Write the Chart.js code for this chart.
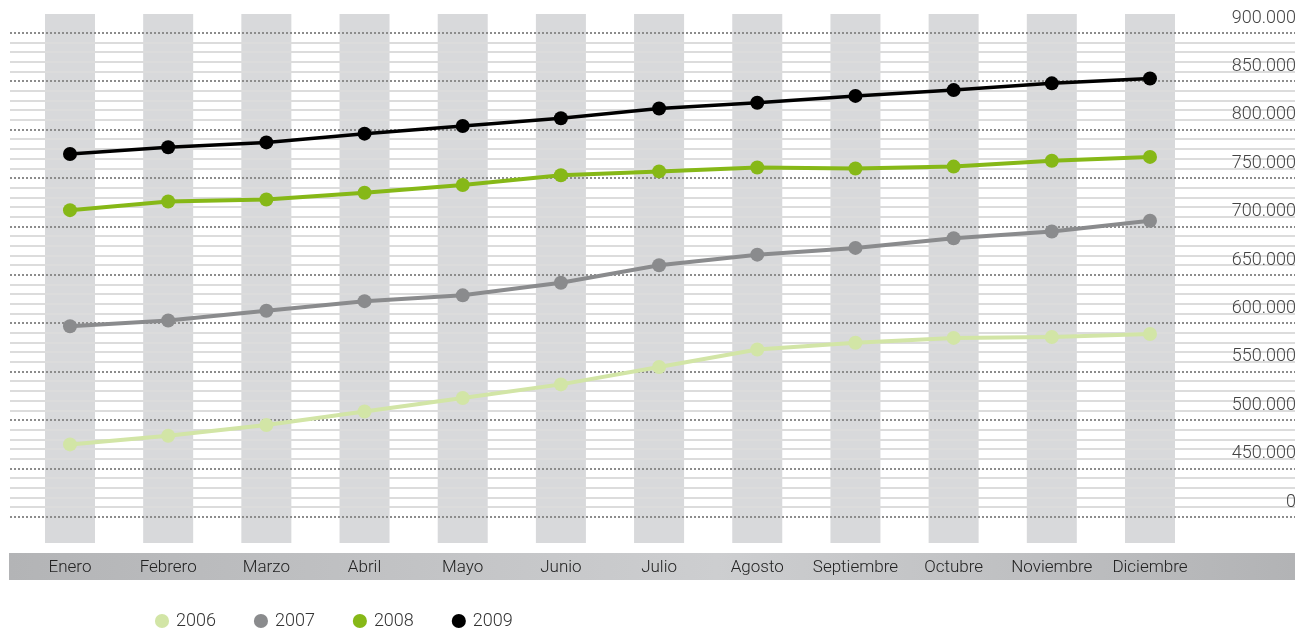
<!DOCTYPE html>
<html lang="es">
<head>
<meta charset="utf-8">
<title>Evolución mensual 2006-2009</title>
<script src="https://cdn.jsdelivr.net/npm/chart.js@4/dist/chart.umd.min.js"></script>
<style>
  html, body { margin: 0; padding: 0; background: #fff; }
  #wrap { position: relative; width: 1308px; height: 632px; }
</style>
</head>
<body>
<div id="wrap"><canvas id="chart"></canvas></div>
<script>
const months = ['Enero', 'Febrero', 'Marzo', 'Abril', 'Mayo', 'Junio', 'Julio',
  'Agosto', 'Septiembre', 'Octubre', 'Noviembre', 'Diciembre'];
const years = ['2006', '2007', '2008', '2009'];

const v2006 = [475000, 484000, 495000, 509000, 523000, 537000, 555000, 573000, 580000, 585000, 586000, 589000];
const v2007 = [597000, 603000, 613000, 623000, 629000, 642000, 660000, 671000, 678000, 688000, 695000, 706000];
const v2008 = [717000, 726000, 728000, 735000, 743000, 753000, 757000, 761000, 760000, 762000, 768000, 772000];
const v2009 = [775000, 782000, 787000, 796000, 804000, 812000, 822000, 828000, 835000, 841000, 848000, 853000];

const yTickValues = [400000, 450000, 500000, 550000, 600000, 650000, 700000, 750000, 800000, 850000, 900000];
const yTickLabels = ['0', '450.000', '500.000', '550.000', '600.000', '650.000', '700.000', '750.000', '800.000', '850.000', '900.000'];

const colors = ['#d2e5a6', '#8a8b8d', '#86b817', '#000000'];
const widths = [4, 4, 4, 3.5];

// thin solid lines every 10.000 between the dotted ones
const minorTicks = [];
for (let v = 410000; v < 900000; v += 10000) {
  if (v % 50000 !== 0) minorTicks.push({ value: v });
}

const FONT = 'Roboto, "DejaVu Sans", sans-serif';

function series(vals) {
  return vals.map((v, i) => ({ x: i, y: v }));
}

const datasets = [v2006, v2007, v2008, v2009].map((vals, k) => ({
  label: years[k],
  data: series(vals),
  borderColor: colors[k],
  backgroundColor: colors[k],
  pointBackgroundColor: colors[k],
  pointBorderWidth: 0,
  pointRadius: 7,
  pointHoverRadius: 7,
  borderWidth: widths[k],
  tension: 0,
}));

// grey month columns + month strip, behind everything
const columnBands = {
  id: 'columnBands',
  beforeDraw(chart) {
    const { ctx, chartArea, scales } = chart;
    ctx.save();
    ctx.fillStyle = '#d8d9db';
    months.forEach((m, i) => {
      const x = scales.x.getPixelForValue(i);
      ctx.fillRect(x - 25, chartArea.top - 19, 50, chartArea.bottom - chartArea.top + 45);
    });
    const y0 = chartArea.bottom + 36;
    const g = ctx.createLinearGradient(9, 0, chartArea.right, 0);
    g.addColorStop(0, '#b3b4b6');
    g.addColorStop(0.55, '#cdced0');
    g.addColorStop(1, '#b2b3b5');
    ctx.fillStyle = g;
    ctx.fillRect(9, y0, chartArea.right - 9, 27);
    ctx.restore();
  },
};

const legendPlace = {
  id: 'legendPlace',
  afterLayout(chart) {
    chart.legend.left = 117;
    chart.legend.top = 572;
  },
};

new Chart(document.getElementById('chart'), {
  type: 'line',
  data: { datasets },
  plugins: [columnBands, legendPlace],
  options: {
    responsive: true,
    maintainAspectRatio: false,
    animation: false,
    layout: { padding: { left: 10, right: 13, top: 33, bottom: -60 } },
    plugins: {
      tooltip: { enabled: false },
      legend: {
        position: 'bottom',
        align: 'start',
        labels: {
          usePointStyle: true,
          pointStyle: 'circle',
          boxWidth: 10,
          boxHeight: 10,
          padding: 40,
          color: '#333',
          font: { family: FONT, size: 18, weight: '300' },
        },
      },
    },
    scales: {
      x: {
        type: 'linear',
        min: -0.611,
        max: 12.477,
        grid: { display: false },
        border: { display: false },
        afterBuildTicks: s => { s.ticks = months.map((m, i) => ({ value: i })); },
        afterFit: s => { s.height = 107; },
        ticks: {
          autoSkip: false,
          maxRotation: 0,
          padding: 33,
          color: '#222',
          font: { family: FONT, size: 17, weight: '300' },
          callback: v => months[v],
        },
      },
      yMinor: {
        position: 'right',
        min: 400000,
        max: 900000,
        afterBuildTicks: s => { s.ticks = minorTicks.slice(); },
        afterFit: s => { s.width = 0; },
        grid: { color: '#dcdcdc', lineWidth: 2, drawTicks: false },
        border: { display: false },
        ticks: { display: false },
      },
      y: {
        position: 'right',
        min: 400000,
        max: 900000,
        afterBuildTicks: s => { s.ticks = yTickValues.map(v => ({ value: v })); },
        afterFit: s => { s.width = 0; },
        grid: { color: '#8c8c8c', lineWidth: 2, drawTicks: false },
        border: { display: false, dash: [2, 2] },
        ticks: {
          mirror: true,
          padding: 1,
          labelOffset: -15,
          color: '#444',
          font: { family: FONT, size: 18, weight: '300' },
          callback: (v, i) => yTickLabels[i],
        },
      },
    },
  },
});
</script>
</body>
</html>
